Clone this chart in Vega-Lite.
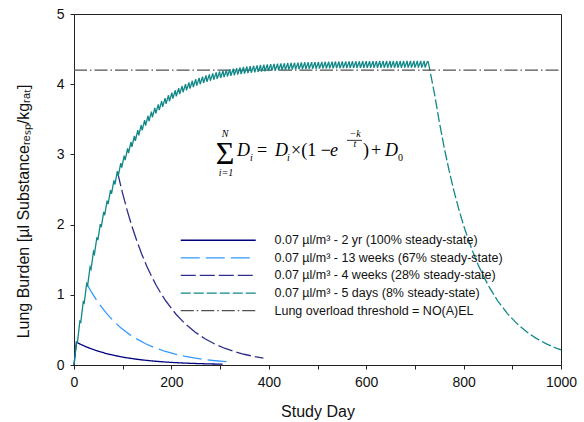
{
  "$schema": "https://vega.github.io/schema/vega-lite/v6.json",
  "width": 487,
  "height": 351,
  "autosize": {"type": "none"},
  "padding": {"left": 74, "top": 14, "right": 23, "bottom": 57},
  "background": "white",
  "config": {
    "font": "Liberation Sans",
    "view": {"stroke": "#222", "strokeWidth": 1},
    "axis": {
      "grid": false, "domainColor": "#222", "tickColor": "#222", "labelColor": "#111", "titleColor": "#111",
      "labelFont": "Liberation Sans", "titleFont": "Liberation Sans", "labelFontSize": 14, "titleFontSize": 16,
      "titleFontWeight": "normal", "tickSize": 4, "domainWidth": 1, "tickWidth": 1
    },
    "legend": {
      "orient": "none", "legendX": 138, "legendY": 220, "padding": 0, "offset": 0,
      "symbolType": "M-10,0H10", "symbolSize": 56.25, "symbolStrokeWidth": 1.3,
      "labelFont": "Liberation Sans", "labelFontSize": 12.5, "labelColor": "#111", "rowPadding": 4.6, "labelOffset": 50, "labelLimit": 0
    }
  },
  "datasets": {
    "curves": [
      {"day": 0, "burden": 0, "series": "0.07 µl/m³ - 2 yr (100% steady-state)"},
      {"day": 5, "burden": 0.324, "series": "0.07 µl/m³ - 2 yr (100% steady-state)"},
      {"day": 15, "burden": 0.2899, "series": "0.07 µl/m³ - 2 yr (100% steady-state)"},
      {"day": 25, "burden": 0.2594, "series": "0.07 µl/m³ - 2 yr (100% steady-state)"},
      {"day": 35, "burden": 0.2321, "series": "0.07 µl/m³ - 2 yr (100% steady-state)"},
      {"day": 45, "burden": 0.2077, "series": "0.07 µl/m³ - 2 yr (100% steady-state)"},
      {"day": 55, "burden": 0.1859, "series": "0.07 µl/m³ - 2 yr (100% steady-state)"},
      {"day": 65, "burden": 0.1663, "series": "0.07 µl/m³ - 2 yr (100% steady-state)"},
      {"day": 75, "burden": 0.1488, "series": "0.07 µl/m³ - 2 yr (100% steady-state)"},
      {"day": 85, "burden": 0.1332, "series": "0.07 µl/m³ - 2 yr (100% steady-state)"},
      {"day": 95, "burden": 0.1192, "series": "0.07 µl/m³ - 2 yr (100% steady-state)"},
      {"day": 105, "burden": 0.1067, "series": "0.07 µl/m³ - 2 yr (100% steady-state)"},
      {"day": 125, "burden": 0.0854, "series": "0.07 µl/m³ - 2 yr (100% steady-state)"},
      {"day": 145, "burden": 0.0684, "series": "0.07 µl/m³ - 2 yr (100% steady-state)"},
      {"day": 165, "burden": 0.0548, "series": "0.07 µl/m³ - 2 yr (100% steady-state)"},
      {"day": 185, "burden": 0.0438, "series": "0.07 µl/m³ - 2 yr (100% steady-state)"},
      {"day": 205, "burden": 0.0351, "series": "0.07 µl/m³ - 2 yr (100% steady-state)"},
      {"day": 225, "burden": 0.0281, "series": "0.07 µl/m³ - 2 yr (100% steady-state)"},
      {"day": 245, "burden": 0.0225, "series": "0.07 µl/m³ - 2 yr (100% steady-state)"},
      {"day": 265, "burden": 0.018, "series": "0.07 µl/m³ - 2 yr (100% steady-state)"},
      {"day": 285, "burden": 0.0145, "series": "0.07 µl/m³ - 2 yr (100% steady-state)"},
      {"day": 305, "burden": 0.0116, "series": "0.07 µl/m³ - 2 yr (100% steady-state)"},
      {"day": 26, "burden": 1.159, "series": "0.07 µl/m³ - 13 weeks (67% steady-state)"},
      {"day": 36, "burden": 1.037, "series": "0.07 µl/m³ - 13 weeks (67% steady-state)"},
      {"day": 46, "burden": 0.928, "series": "0.07 µl/m³ - 13 weeks (67% steady-state)"},
      {"day": 56, "burden": 0.83, "series": "0.07 µl/m³ - 13 weeks (67% steady-state)"},
      {"day": 66, "burden": 0.743, "series": "0.07 µl/m³ - 13 weeks (67% steady-state)"},
      {"day": 76, "burden": 0.665, "series": "0.07 µl/m³ - 13 weeks (67% steady-state)"},
      {"day": 86, "burden": 0.595, "series": "0.07 µl/m³ - 13 weeks (67% steady-state)"},
      {"day": 96, "burden": 0.532, "series": "0.07 µl/m³ - 13 weeks (67% steady-state)"},
      {"day": 106, "burden": 0.476, "series": "0.07 µl/m³ - 13 weeks (67% steady-state)"},
      {"day": 116, "burden": 0.426, "series": "0.07 µl/m³ - 13 weeks (67% steady-state)"},
      {"day": 126, "burden": 0.382, "series": "0.07 µl/m³ - 13 weeks (67% steady-state)"},
      {"day": 146, "burden": 0.306, "series": "0.07 µl/m³ - 13 weeks (67% steady-state)"},
      {"day": 166, "burden": 0.245, "series": "0.07 µl/m³ - 13 weeks (67% steady-state)"},
      {"day": 186, "burden": 0.196, "series": "0.07 µl/m³ - 13 weeks (67% steady-state)"},
      {"day": 206, "burden": 0.157, "series": "0.07 µl/m³ - 13 weeks (67% steady-state)"},
      {"day": 226, "burden": 0.126, "series": "0.07 µl/m³ - 13 weeks (67% steady-state)"},
      {"day": 246, "burden": 0.101, "series": "0.07 µl/m³ - 13 weeks (67% steady-state)"},
      {"day": 266, "burden": 0.081, "series": "0.07 µl/m³ - 13 weeks (67% steady-state)"},
      {"day": 286, "burden": 0.064, "series": "0.07 µl/m³ - 13 weeks (67% steady-state)"},
      {"day": 306, "burden": 0.052, "series": "0.07 µl/m³ - 13 weeks (67% steady-state)"},
      {"day": 316, "burden": 0.046, "series": "0.07 µl/m³ - 13 weeks (67% steady-state)"},
      {"day": 89, "burden": 2.757, "series": "0.07 µl/m³ - 4 weeks (28% steady-state)"},
      {"day": 99, "burden": 2.467, "series": "0.07 µl/m³ - 4 weeks (28% steady-state)"},
      {"day": 109, "burden": 2.207, "series": "0.07 µl/m³ - 4 weeks (28% steady-state)"},
      {"day": 119, "burden": 1.975, "series": "0.07 µl/m³ - 4 weeks (28% steady-state)"},
      {"day": 129, "burden": 1.768, "series": "0.07 µl/m³ - 4 weeks (28% steady-state)"},
      {"day": 139, "burden": 1.582, "series": "0.07 µl/m³ - 4 weeks (28% steady-state)"},
      {"day": 149, "burden": 1.415, "series": "0.07 µl/m³ - 4 weeks (28% steady-state)"},
      {"day": 159, "burden": 1.267, "series": "0.07 µl/m³ - 4 weeks (28% steady-state)"},
      {"day": 169, "burden": 1.133, "series": "0.07 µl/m³ - 4 weeks (28% steady-state)"},
      {"day": 179, "burden": 1.014, "series": "0.07 µl/m³ - 4 weeks (28% steady-state)"},
      {"day": 189, "burden": 0.908, "series": "0.07 µl/m³ - 4 weeks (28% steady-state)"},
      {"day": 209, "burden": 0.727, "series": "0.07 µl/m³ - 4 weeks (28% steady-state)"},
      {"day": 229, "burden": 0.582, "series": "0.07 µl/m³ - 4 weeks (28% steady-state)"},
      {"day": 249, "burden": 0.466, "series": "0.07 µl/m³ - 4 weeks (28% steady-state)"},
      {"day": 269, "burden": 0.373, "series": "0.07 µl/m³ - 4 weeks (28% steady-state)"},
      {"day": 289, "burden": 0.299, "series": "0.07 µl/m³ - 4 weeks (28% steady-state)"},
      {"day": 309, "burden": 0.239, "series": "0.07 µl/m³ - 4 weeks (28% steady-state)"},
      {"day": 329, "burden": 0.192, "series": "0.07 µl/m³ - 4 weeks (28% steady-state)"},
      {"day": 349, "burden": 0.153, "series": "0.07 µl/m³ - 4 weeks (28% steady-state)"},
      {"day": 369, "burden": 0.123, "series": "0.07 µl/m³ - 4 weeks (28% steady-state)"},
      {"day": 389, "burden": 0.098, "series": "0.07 µl/m³ - 4 weeks (28% steady-state)"},
      {"day": 727, "burden": 4.33, "series": "0.07 µl/m³ - 5 days (8% steady-state)"},
      {"day": 740, "burden": 3.874, "series": "0.07 µl/m³ - 5 days (8% steady-state)"},
      {"day": 750, "burden": 3.467, "series": "0.07 µl/m³ - 5 days (8% steady-state)"},
      {"day": 760, "burden": 3.102, "series": "0.07 µl/m³ - 5 days (8% steady-state)"},
      {"day": 770, "burden": 2.776, "series": "0.07 µl/m³ - 5 days (8% steady-state)"},
      {"day": 780, "burden": 2.485, "series": "0.07 µl/m³ - 5 days (8% steady-state)"},
      {"day": 790, "burden": 2.223, "series": "0.07 µl/m³ - 5 days (8% steady-state)"},
      {"day": 800, "burden": 1.989, "series": "0.07 µl/m³ - 5 days (8% steady-state)"},
      {"day": 810, "burden": 1.78, "series": "0.07 µl/m³ - 5 days (8% steady-state)"},
      {"day": 820, "burden": 1.594, "series": "0.07 µl/m³ - 5 days (8% steady-state)"},
      {"day": 830, "burden": 1.425, "series": "0.07 µl/m³ - 5 days (8% steady-state)"},
      {"day": 850, "burden": 1.141, "series": "0.07 µl/m³ - 5 days (8% steady-state)"},
      {"day": 870, "burden": 0.914, "series": "0.07 µl/m³ - 5 days (8% steady-state)"},
      {"day": 890, "burden": 0.732, "series": "0.07 µl/m³ - 5 days (8% steady-state)"},
      {"day": 910, "burden": 0.586, "series": "0.07 µl/m³ - 5 days (8% steady-state)"},
      {"day": 930, "burden": 0.469, "series": "0.07 µl/m³ - 5 days (8% steady-state)"},
      {"day": 950, "burden": 0.376, "series": "0.07 µl/m³ - 5 days (8% steady-state)"},
      {"day": 970, "burden": 0.301, "series": "0.07 µl/m³ - 5 days (8% steady-state)"},
      {"day": 990, "burden": 0.241, "series": "0.07 µl/m³ - 5 days (8% steady-state)"},
      {"day": 1000, "burden": 0.216, "series": "0.07 µl/m³ - 5 days (8% steady-state)"},
      {"day": 0, "burden": 4.2, "series": "Lung overload threshold = NO(A)EL"},
      {"day": 1000, "burden": 4.2, "series": "Lung overload threshold = NO(A)EL"}
    ],
    "rise": [
      {"day": 0, "burden": 0},
      {"day": 5, "burden": 0.3242}, {"day": 7, "burden": 0.3171},
      {"day": 12, "burden": 0.6242}, {"day": 14, "burden": 0.6105},
      {"day": 19, "burden": 0.9018}, {"day": 21, "burden": 0.882},
      {"day": 26, "burden": 1.1586}, {"day": 28, "burden": 1.1331},
      {"day": 33, "burden": 1.3961}, {"day": 35, "burden": 1.3654},
      {"day": 40, "burden": 1.6159}, {"day": 42, "burden": 1.5804},
      {"day": 47, "burden": 1.8192}, {"day": 49, "burden": 1.7792},
      {"day": 54, "burden": 2.0073}, {"day": 56, "burden": 1.9633},
      {"day": 61, "burden": 2.1815}, {"day": 63, "burden": 2.1334},
      {"day": 68, "burden": 2.3424}, {"day": 70, "burden": 2.2909},
      {"day": 75, "burden": 2.4913}, {"day": 77, "burden": 2.4366},
      {"day": 82, "burden": 2.6292}, {"day": 84, "burden": 2.5714},
      {"day": 89, "burden": 2.7567}, {"day": 91, "burden": 2.6961},
      {"day": 96, "burden": 2.8747}, {"day": 98, "burden": 2.8115},
      {"day": 103, "burden": 2.9838}, {"day": 105, "burden": 2.9182},
      {"day": 110, "burden": 3.0847}, {"day": 112, "burden": 3.017},
      {"day": 117, "burden": 3.1782}, {"day": 119, "burden": 3.1084},
      {"day": 124, "burden": 3.2647}, {"day": 126, "burden": 3.1929},
      {"day": 131, "burden": 3.3446}, {"day": 133, "burden": 3.2711},
      {"day": 138, "burden": 3.4185}, {"day": 140, "burden": 3.3434},
      {"day": 145, "burden": 3.487}, {"day": 147, "burden": 3.4104},
      {"day": 152, "burden": 3.5503}, {"day": 154, "burden": 3.4723},
      {"day": 159, "burden": 3.6089}, {"day": 161, "burden": 3.5296},
      {"day": 166, "burden": 3.6631}, {"day": 168, "burden": 3.5826},
      {"day": 173, "burden": 3.7132}, {"day": 175, "burden": 3.6316},
      {"day": 180, "burden": 3.7596}, {"day": 182, "burden": 3.677},
      {"day": 187, "burden": 3.8026}, {"day": 189, "burden": 3.719},
      {"day": 194, "burden": 3.8423}, {"day": 196, "burden": 3.7578},
      {"day": 201, "burden": 3.879}, {"day": 203, "burden": 3.7938},
      {"day": 208, "burden": 3.9131}, {"day": 210, "burden": 3.827},
      {"day": 215, "burden": 3.9445}, {"day": 217, "burden": 3.8578},
      {"day": 222, "burden": 3.9736}, {"day": 224, "burden": 3.8862},
      {"day": 229, "burden": 4.0005}, {"day": 231, "burden": 3.9125},
      {"day": 236, "burden": 4.0253}, {"day": 238, "burden": 3.9369},
      {"day": 243, "burden": 4.0484}, {"day": 245, "burden": 3.9594},
      {"day": 250, "burden": 4.0697}, {"day": 252, "burden": 3.9802},
      {"day": 257, "burden": 4.0894}, {"day": 259, "burden": 3.9995},
      {"day": 264, "burden": 4.1077}, {"day": 266, "burden": 4.0174},
      {"day": 271, "burden": 4.1246}, {"day": 273, "burden": 4.0339},
      {"day": 278, "burden": 4.1402}, {"day": 280, "burden": 4.0492},
      {"day": 285, "burden": 4.1546}, {"day": 287, "burden": 4.0633},
      {"day": 292, "burden": 4.168}, {"day": 294, "burden": 4.0764},
      {"day": 299, "burden": 4.1803}, {"day": 301, "burden": 4.0885},
      {"day": 306, "burden": 4.1918}, {"day": 308, "burden": 4.0997},
      {"day": 313, "burden": 4.2024}, {"day": 315, "burden": 4.11},
      {"day": 320, "burden": 4.2121}, {"day": 322, "burden": 4.1196},
      {"day": 327, "burden": 4.2212}, {"day": 329, "burden": 4.1284},
      {"day": 334, "burden": 4.2295}, {"day": 336, "burden": 4.1366},
      {"day": 341, "burden": 4.2373}, {"day": 343, "burden": 4.1442},
      {"day": 348, "burden": 4.2445}, {"day": 350, "burden": 4.1512},
      {"day": 355, "burden": 4.2511}, {"day": 357, "burden": 4.1577},
      {"day": 362, "burden": 4.2573}, {"day": 364, "burden": 4.1637},
      {"day": 369, "burden": 4.263}, {"day": 371, "burden": 4.1693},
      {"day": 376, "burden": 4.2682}, {"day": 378, "burden": 4.1744},
      {"day": 383, "burden": 4.2731}, {"day": 385, "burden": 4.1792},
      {"day": 390, "burden": 4.2776}, {"day": 392, "burden": 4.1836},
      {"day": 397, "burden": 4.2818}, {"day": 399, "burden": 4.1877},
      {"day": 404, "burden": 4.2856}, {"day": 406, "burden": 4.1914},
      {"day": 411, "burden": 4.2891}, {"day": 413, "burden": 4.1949},
      {"day": 418, "burden": 4.2925}, {"day": 420, "burden": 4.1982},
      {"day": 425, "burden": 4.2956}, {"day": 427, "burden": 4.2011},
      {"day": 432, "burden": 4.2983}, {"day": 434, "burden": 4.2039},
      {"day": 439, "burden": 4.301}, {"day": 441, "burden": 4.2064},
      {"day": 446, "burden": 4.3033}, {"day": 448, "burden": 4.2088},
      {"day": 453, "burden": 4.3056}, {"day": 455, "burden": 4.211},
      {"day": 460, "burden": 4.3077}, {"day": 462, "burden": 4.213},
      {"day": 467, "burden": 4.3096}, {"day": 469, "burden": 4.2149},
      {"day": 474, "burden": 4.3114}, {"day": 476, "burden": 4.2166},
      {"day": 481, "burden": 4.313}, {"day": 483, "burden": 4.2182},
      {"day": 488, "burden": 4.3145}, {"day": 490, "burden": 4.2197},
      {"day": 495, "burden": 4.3159}, {"day": 497, "burden": 4.221},
      {"day": 502, "burden": 4.3172}, {"day": 504, "burden": 4.2223},
      {"day": 509, "burden": 4.3184}, {"day": 511, "burden": 4.2235},
      {"day": 516, "burden": 4.3195}, {"day": 518, "burden": 4.2246},
      {"day": 523, "burden": 4.3206}, {"day": 525, "burden": 4.2256},
      {"day": 530, "burden": 4.3215}, {"day": 532, "burden": 4.2265},
      {"day": 537, "burden": 4.3224}, {"day": 539, "burden": 4.2274},
      {"day": 544, "burden": 4.3232}, {"day": 546, "burden": 4.2282},
      {"day": 551, "burden": 4.324}, {"day": 553, "burden": 4.2289},
      {"day": 558, "burden": 4.3247}, {"day": 560, "burden": 4.2296},
      {"day": 565, "burden": 4.3253}, {"day": 567, "burden": 4.2302},
      {"day": 572, "burden": 4.3259}, {"day": 574, "burden": 4.2308},
      {"day": 579, "burden": 4.3264}, {"day": 581, "burden": 4.2313},
      {"day": 586, "burden": 4.3269}, {"day": 588, "burden": 4.2318},
      {"day": 593, "burden": 4.3274}, {"day": 595, "burden": 4.2323},
      {"day": 600, "burden": 4.3278}, {"day": 602, "burden": 4.2327},
      {"day": 607, "burden": 4.3282}, {"day": 609, "burden": 4.2331},
      {"day": 614, "burden": 4.3286}, {"day": 616, "burden": 4.2334},
      {"day": 621, "burden": 4.3289}, {"day": 623, "burden": 4.2338},
      {"day": 628, "burden": 4.3292}, {"day": 630, "burden": 4.2341},
      {"day": 635, "burden": 4.3295}, {"day": 637, "burden": 4.2344},
      {"day": 642, "burden": 4.3298}, {"day": 644, "burden": 4.2346},
      {"day": 649, "burden": 4.33}, {"day": 651, "burden": 4.2349},
      {"day": 656, "burden": 4.3303}, {"day": 658, "burden": 4.2351},
      {"day": 663, "burden": 4.3305}, {"day": 665, "burden": 4.2354},
      {"day": 670, "burden": 4.3307}, {"day": 672, "burden": 4.2356},
      {"day": 677, "burden": 4.3308}, {"day": 679, "burden": 4.2358},
      {"day": 684, "burden": 4.331}, {"day": 686, "burden": 4.2359},
      {"day": 691, "burden": 4.3312}, {"day": 693, "burden": 4.2361},
      {"day": 698, "burden": 4.3313}, {"day": 700, "burden": 4.2362},
      {"day": 705, "burden": 4.3314}, {"day": 707, "burden": 4.2363},
      {"day": 712, "burden": 4.3315}, {"day": 714, "burden": 4.2364},
      {"day": 719, "burden": 4.3316}, {"day": 721, "burden": 4.2366},
      {"day": 726, "burden": 4.3318}
    ],
    "one": [{"k": 1}]
  },
  "layer": [
    {
      "data": {"name": "curves"},
      "mark": {"type": "line", "strokeWidth": 1.3},
      "encoding": {
        "x": {
          "field": "day", "type": "quantitative",
          "scale": {"domain": [0, 1000], "nice": false, "zero": false},
          "axis": {
            "title": "Study Day", "values": [0, 100, 200, 300, 400, 500, 600, 700, 800, 900, 1000],
            "format": "d", "labelExpr": "datum.value % 200 === 0 ? datum.label : ''",
            "labelPadding": 6, "titlePadding": 14, "labelFlush": false, "labelOverlap": false
          }
        },
        "y": {
          "field": "burden", "type": "quantitative",
          "scale": {"domain": [0, 5], "nice": false},
          "axis": {
            "title": "Lung Burden [µl Substanceᵣₑₛₚ/kgᵣₐₜ]", "values": [0, 0.5, 1, 1.5, 2, 2.5, 3, 3.5, 4, 4.5, 5],
            "format": "d", "labelExpr": "datum.value % 1 === 0 ? datum.label : ''",
            "labelPadding": 6, "titleX": -51, "titleY": 197, "titleBaseline": "middle", "labelFlush": false, "labelOverlap": false
          }
        },
        "color": {
          "field": "series", "type": "nominal",
          "scale": {
            "domain": ["0.07 µl/m³ - 2 yr (100% steady-state)", "0.07 µl/m³ - 13 weeks (67% steady-state)", "0.07 µl/m³ - 4 weeks (28% steady-state)", "0.07 µl/m³ - 5 days (8% steady-state)", "Lung overload threshold = NO(A)EL"],
            "range": ["#00007f", "#3399ff", "#2e2e8c", "#118888", "#505050"]
          },
          "legend": {"title": null}
        },
        "strokeDash": {
          "field": "series", "type": "nominal",
          "scale": {
            "domain": ["0.07 µl/m³ - 2 yr (100% steady-state)", "0.07 µl/m³ - 13 weeks (67% steady-state)", "0.07 µl/m³ - 4 weeks (28% steady-state)", "0.07 µl/m³ - 5 days (8% steady-state)", "Lung overload threshold = NO(A)EL"],
            "range": [[1, 0], [19, 6], [15, 4], [10, 3], [13, 3, 1.5, 3]]
          },
          "legend": {"title": null}
        },
        "order": {"field": "day", "type": "quantitative"}
      }
    },
    {
      "data": {"name": "rise"},
      "mark": {"type": "line", "strokeWidth": 1.3, "color": "#118888"},
      "encoding": {
        "x": {"field": "day", "type": "quantitative"},
        "y": {"field": "burden", "type": "quantitative"}
      }
    },
    {"data": {"name": "one"}, "mark": {"type": "text", "font": "Liberation Serif", "fontSize": 32, "align": "center", "baseline": "alphabetic", "fill": "#000"},
     "encoding": {"x": {"datum": 310.1, "type": "quantitative"}, "y": {"datum": 2.857, "type": "quantitative"}, "text": {"value": "Σ"}}},
    {"data": {"name": "one"}, "mark": {"type": "text", "font": "Liberation Serif", "fontSize": 10, "fontStyle": "italic", "align": "center", "baseline": "alphabetic", "fill": "#000"},
     "encoding": {"x": {"datum": 310.1, "type": "quantitative"}, "y": {"datum": 3.243, "type": "quantitative"}, "text": {"value": "N"}}},
    {"data": {"name": "one"}, "mark": {"type": "text", "font": "Liberation Serif", "fontSize": 10, "fontStyle": "italic", "align": "center", "baseline": "alphabetic", "fill": "#000"},
     "encoding": {"x": {"datum": 312.1, "type": "quantitative"}, "y": {"datum": 2.686, "type": "quantitative"}, "text": {"value": "i=1"}}},
    {"data": {"name": "one"}, "mark": {"type": "text", "font": "Liberation Serif", "fontSize": 18, "fontStyle": "italic", "align": "left", "baseline": "alphabetic", "fill": "#000"},
     "encoding": {"x": {"datum": 334.7, "type": "quantitative"}, "y": {"datum": 2.971, "type": "quantitative"}, "text": {"value": "D"}}},
    {"data": {"name": "one"}, "mark": {"type": "text", "font": "Liberation Serif", "fontSize": 10, "fontStyle": "italic", "align": "left", "baseline": "alphabetic", "fill": "#000"},
     "encoding": {"x": {"datum": 361.4, "type": "quantitative"}, "y": {"datum": 2.9, "type": "quantitative"}, "text": {"value": "i"}}},
    {"data": {"name": "one"}, "mark": {"type": "text", "font": "Liberation Serif", "fontSize": 18, "align": "left", "baseline": "alphabetic", "fill": "#000"},
     "encoding": {"x": {"datum": 375.8, "type": "quantitative"}, "y": {"datum": 2.971, "type": "quantitative"}, "text": {"value": "="}}},
    {"data": {"name": "one"}, "mark": {"type": "text", "font": "Liberation Serif", "fontSize": 18, "fontStyle": "italic", "align": "left", "baseline": "alphabetic", "fill": "#000"},
     "encoding": {"x": {"datum": 412.7, "type": "quantitative"}, "y": {"datum": 2.971, "type": "quantitative"}, "text": {"value": "D"}}},
    {"data": {"name": "one"}, "mark": {"type": "text", "font": "Liberation Serif", "fontSize": 10, "fontStyle": "italic", "align": "left", "baseline": "alphabetic", "fill": "#000"},
     "encoding": {"x": {"datum": 437.4, "type": "quantitative"}, "y": {"datum": 2.9, "type": "quantitative"}, "text": {"value": "i"}}},
    {"data": {"name": "one"}, "mark": {"type": "text", "font": "Liberation Serif", "fontSize": 18, "align": "left", "baseline": "alphabetic", "fill": "#000"},
     "encoding": {"x": {"datum": 445.6, "type": "quantitative"}, "y": {"datum": 2.971, "type": "quantitative"}, "text": {"value": "×(1 −"}}},
    {"data": {"name": "one"}, "mark": {"type": "text", "font": "Liberation Serif", "fontSize": 18, "fontStyle": "italic", "align": "left", "baseline": "alphabetic", "fill": "#000"},
     "encoding": {"x": {"datum": 525.7, "type": "quantitative"}, "y": {"datum": 2.971, "type": "quantitative"}, "text": {"value": "e"}}},
    {"data": {"name": "one"}, "mark": {"type": "text", "font": "Liberation Serif", "fontSize": 10, "fontStyle": "italic", "align": "center", "baseline": "alphabetic", "fill": "#000"},
     "encoding": {"x": {"datum": 577, "type": "quantitative"}, "y": {"datum": 3.243, "type": "quantitative"}, "text": {"value": "−k"}}},
    {"data": {"name": "one"}, "mark": {"type": "rule", "color": "#000", "strokeWidth": 0.8},
     "encoding": {"x": {"datum": 560.6, "type": "quantitative"}, "x2": {"datum": 591.4}, "y": {"datum": 3.2, "type": "quantitative"}}},
    {"data": {"name": "one"}, "mark": {"type": "text", "font": "Liberation Serif", "fontSize": 10, "fontStyle": "italic", "align": "center", "baseline": "alphabetic", "fill": "#000"},
     "encoding": {"x": {"datum": 577, "type": "quantitative"}, "y": {"datum": 3.1, "type": "quantitative"}, "text": {"value": "t"}}},
    {"data": {"name": "one"}, "mark": {"type": "text", "font": "Liberation Serif", "fontSize": 18, "align": "left", "baseline": "alphabetic", "fill": "#000"},
     "encoding": {"x": {"datum": 593.4, "type": "quantitative"}, "y": {"datum": 2.971, "type": "quantitative"}, "text": {"value": ")"}}},
    {"data": {"name": "one"}, "mark": {"type": "text", "font": "Liberation Serif", "fontSize": 18, "align": "left", "baseline": "alphabetic", "fill": "#000"},
     "encoding": {"x": {"datum": 609.9, "type": "quantitative"}, "y": {"datum": 2.971, "type": "quantitative"}, "text": {"value": "+"}}},
    {"data": {"name": "one"}, "mark": {"type": "text", "font": "Liberation Serif", "fontSize": 18, "fontStyle": "italic", "align": "left", "baseline": "alphabetic", "fill": "#000"},
     "encoding": {"x": {"datum": 638.6, "type": "quantitative"}, "y": {"datum": 2.971, "type": "quantitative"}, "text": {"value": "D"}}},
    {"data": {"name": "one"}, "mark": {"type": "text", "font": "Liberation Serif", "fontSize": 10, "align": "left", "baseline": "alphabetic", "fill": "#000"},
     "encoding": {"x": {"datum": 665.3, "type": "quantitative"}, "y": {"datum": 2.9, "type": "quantitative"}, "text": {"value": "0"}}}
  ]
}
